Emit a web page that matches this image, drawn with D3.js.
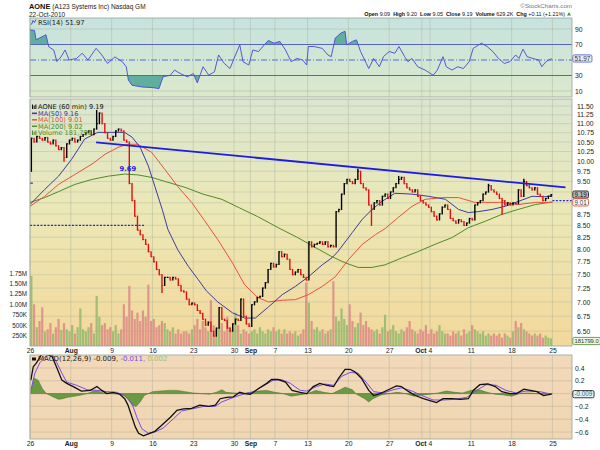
<!DOCTYPE html>
<html>
<head>
<meta charset="utf-8">
<script src="https://cdn.jsdelivr.net/npm/d3@7"></script>
<style>
  body { margin: 0; background: #fff; }
  svg { font-family: "DejaVu Sans", Verdana, sans-serif; display: block; }
</style>
</head>
<body>
<svg id="chart"></svg>
<script>
// Datos de la grafica (AONE, barras de 60 min, 26-Jul a 22-Oct 2010)
// x = indice de dia de mercado (0 = 26 Jul)
const dayTicks = [0, 5, 10, 15, 20, 25, 27, 30, 34, 39, 44, 48, 49, 54, 59, 64];
const dayLabels = ["26", "Aug", "9", "16", "23", "30", "Sep", "7", "13", "20", "27", "Oct", "4", "11", "18", "25"];
const monthLabels = ["Aug", "Sep", "Oct"];

const priceTicks = [6.50, 6.75, 7.00, 7.25, 7.50, 7.75, 8.00, 8.25, 8.50, 8.75, 9.00, 9.25, 9.50, 9.75, 10.00, 10.25, 10.50, 10.75, 11.00, 11.25, 11.50];
// etiquetas tapadas por las cajas de ultimo valor
const hiddenPriceLabels = [9.00, 9.25];
const volTicks = [250, 500, 750, 1000, 1250, 1500, 1750];
const volLabels = ["250K", "500K", "750K", "1.00M", "1.25M", "1.50M", "1.75M"];
const rsiTicks = [10, 30, 70, 90];
const macdTicks = [-0.6, -0.4, -0.2, 0.2, 0.4];

// cierres, 3 barras por dia
const closes = [
  10.60, 10.50, 10.65,  10.60, 10.55, 10.62,  10.50, 10.45, 10.55,  10.40, 10.30, 10.35,
  10.10, 10.45, 10.55,  10.60, 10.50, 10.55,  10.65, 10.70, 10.75,  10.80, 10.70, 10.85,
  11.00, 11.30, 11.00,  10.75, 10.60, 10.55,  10.65, 10.80, 10.85,  10.80, 10.55, 10.50,
  9.45, 9.05, 8.70,     8.40, 8.30, 8.20,     8.10, 7.95, 7.85,     7.75, 7.60, 7.50,
  7.30, 7.45, 7.45,     7.40, 7.45, 7.42,     7.30, 7.20, 7.18,     7.05, 6.95, 6.98,
  6.95, 6.85, 6.80,     6.70, 6.60, 6.65,     6.50, 6.42, 6.55,     6.90, 6.70, 6.68,
  6.55, 6.50, 6.62,     6.70, 6.68, 7.05,     6.75, 6.62, 6.58,     6.95, 7.00, 7.08,
  7.10, 7.25, 7.35,     7.60, 7.72, 7.65,     7.70, 7.95, 7.85,     7.90, 7.80, 7.60,
  7.50, 7.55, 7.60,     7.50, 7.45, 7.40,     8.15, 8.05, 8.10,     8.12, 8.15, 8.10,
  8.15, 8.05, 8.08,     8.05, 8.80, 8.85,     9.20, 9.45, 9.55,     9.50, 9.45, 9.55,
  9.75, 9.45, 9.35,     9.30, 8.95, 8.85,     9.00, 9.05, 8.95,     9.15, 9.20, 9.10,
  9.25, 9.35, 9.45,     9.55, 9.60, 9.45,     9.35, 9.30, 9.25,     9.30, 9.15, 9.05,
  9.00, 8.95, 8.90,     8.80, 8.70, 8.62,     8.75, 8.90, 8.95,     8.85, 8.65, 8.60,
  8.55, 8.62, 8.58,     8.50, 8.55, 8.65,     8.62, 8.95, 9.00,     9.05, 9.20, 9.25,
  9.40, 9.30, 9.25,     9.20, 9.10, 9.05,     8.95, 9.00, 8.95,     9.00, 8.98, 9.30,
  9.15, 9.50, 9.40,     9.35, 9.30, 9.35,     9.20, 9.15, 9.05,     9.10, 9.15, 9.19
];
// mechas largas [indice de barra, precio]
const spikes = [[0, 9.75], [12, 10.0], [24, 11.37], [48, 7.17], [120, 9.80], [125, 8.50], [135, 9.62], [168, 9.43], [173, 8.74], [181, 9.55]];

// volumen (miles), 3 barras por dia
const volumes = [
  1680, 1000, 450,  600, 930, 350,  400, 550, 300,  450, 650, 380,  550, 400, 350,
  500, 300, 450,    900, 400, 350,  450, 550, 300,  1200, 700, 500, 550, 400, 450,
  350, 500, 300,    400, 1000, 700, 1440, 850, 650, 800, 600, 850,  700, 1470, 600,
  650, 450, 500,    600, 550, 400,  350, 450, 300,  400, 300, 350,  350, 300, 400,
  500, 650, 400,    600, 450, 350,  1100, 500, 400, 450, 550, 350,  700, 450, 400,
  800, 500, 300,    400, 350, 300,  350, 400, 300,  450, 350, 300,  400, 350, 450,
  350, 400, 300,    400, 300, 350,  300, 350, 250,  300, 400, 1520, 1040, 600, 400,
  450, 350, 400,    300, 350, 400,  1550, 700, 600, 900, 650, 500,  1000, 600, 450,
  550, 800, 500,    600, 450, 400,  350, 400, 300,  450, 750, 350,  400, 500, 350,
  300, 400, 350,    450, 600, 400,  350, 300, 400,  350, 500, 300,  400, 300, 350,
  500, 350, 300,    300, 250, 350,  300, 350, 250,  400, 300, 350,  500, 400, 350,
  300, 350, 250,    300, 250, 300,  250, 300, 200,  300, 250, 200,  350, 600, 450,
  550, 400, 350,    300, 250, 300,  250, 300, 200,  250, 200, 182
];

// medias moviles [dia, precio]
const ma50 = [[0, 8.96], [1.8, 9.31], [3.5, 9.63], [5.1, 10.05], [6.7, 10.58], [8.3, 10.76], [10, 10.76], [11.6, 10.76], [12.5, 10.63], [13.5, 10.36], [14.5, 9.88], [15.3, 9.38], [16.2, 8.85], [16.9, 8.41], [18.1, 7.99], [19.4, 7.66], [20.6, 7.41], [21.6, 7.2], [23, 7.0], [24.8, 6.81], [26.3, 6.72], [27.6, 6.72], [29.2, 6.91], [30.9, 7.13], [32.5, 7.28], [34.1, 7.46], [35.8, 7.69], [37, 7.83], [37.7, 7.95], [39.5, 8.35], [40.7, 8.63], [41.9, 8.85], [43.1, 9.03], [44.7, 9.22], [46.8, 9.2], [48.8, 9.15], [50.9, 9.08], [52.5, 8.85], [53.7, 8.78], [54.9, 8.8], [56.6, 8.85], [58.2, 8.92], [59.8, 9.03], [61.5, 9.15], [63.1, 9.14], [64, 9.16]];
const ma100 = [[0, 8.92], [1.8, 9.15], [3.5, 9.43], [5.5, 9.67], [7.6, 9.93], [9.2, 10.18], [10.8, 10.36], [12, 10.44], [13.2, 10.44], [14.9, 10.23], [16.5, 9.80], [18.1, 9.38], [19.8, 9.01], [21.4, 8.6], [23, 8.2], [24.8, 7.73], [26.3, 7.31], [27.9, 7.08], [29.2, 7.0], [30.9, 7.03], [32.5, 7.04], [34.1, 7.13], [35.8, 7.28], [37.4, 7.46], [39, 7.79], [40.7, 8.1], [42.3, 8.3], [43.5, 8.43], [45.1, 8.67], [46.8, 8.92], [48.4, 9.08], [50.5, 9.12], [52.5, 9.12], [54.5, 9.01], [55.8, 9.01], [57.8, 9.01], [59.8, 8.96], [61.9, 9.01], [64, 9.01]];
const ma200 = [[0, 9.01], [1.8, 9.12], [3.5, 9.26], [5.5, 9.43], [7.6, 9.55], [9.6, 9.63], [11.6, 9.68], [13.2, 9.66], [14.9, 9.6], [16.9, 9.48], [19, 9.36], [21.2, 9.2], [23.5, 9.08], [25.5, 8.9], [27.9, 8.69], [30.4, 8.45], [32.8, 8.24], [34.9, 8.04], [37, 7.85], [38.6, 7.73], [40.2, 7.64], [41.9, 7.64], [43.5, 7.69], [45.6, 7.83], [47.5, 7.95], [49.6, 8.1], [51.7, 8.24], [53.7, 8.45], [55.8, 8.59], [57.8, 8.74], [59.8, 8.85], [61.9, 8.96], [64, 9.02]];

// linea de tendencia y niveles marcados
const trendLine = [[8.1, 10.49], [65.6, 9.36]];
const levelLeft = [[0, 8.50], [14.1, 8.50]];
const levelRight = [[64, 9.05], [66.4, 9.05]];
const gapMark = [12.0, 9.69];

// RSI(14) [dia, valor]
const rsi = [[0, 89], [0.55, 88], [0.75, 76], [1.1, 78], [1.96, 82.6], [2.3, 67], [2.9, 63], [3.3, 48], [3.8, 54], [4.3, 63], [4.8, 50], [5.7, 52], [6.4, 58.7], [7.1, 50], [8.1, 65], [8.8, 56.5], [9.5, 45.6], [10.4, 54], [11.3, 47.8], [11.8, 41.3], [12.05, 24], [12.5, 17.4], [13.7, 15.2], [15.1, 14.3], [15.8, 13], [16.3, 28.3], [17.2, 30.4], [17.7, 37], [18.4, 32.6], [19.3, 28.3], [20, 32.6], [20.5, 20.4], [21.2, 41.3], [21.9, 30.4], [22.6, 34.8], [23.1, 56.5], [23.8, 45.6], [24.5, 39], [25, 52], [25.7, 69.6], [26.1, 47.8], [26.8, 43.5], [27.3, 63], [28, 60.9], [28.7, 69.6], [29.2, 75.2], [29.9, 71.7], [30.6, 74], [31.3, 63], [32, 47.8], [32.7, 52], [33.4, 50], [33.9, 43.5], [34.1, 67.4], [34.8, 67.4], [35.8, 65], [36.5, 56.5], [36.9, 54.3], [37.4, 78.3], [38.1, 84.8], [38.6, 87], [38.8, 69.6], [39.5, 74], [40, 76], [40.5, 60.9], [41.2, 45.6], [41.5, 39], [42.1, 52], [42.8, 41.3], [43.3, 54.3], [44, 60.9], [44.7, 58.7], [45.2, 67.4], [45.9, 54.3], [46.3, 47.8], [46.8, 52], [47.5, 41.3], [48.4, 37], [49.4, 30.4], [49.9, 37], [50.6, 54.3], [51, 41.3], [51.7, 37], [52.4, 41.3], [53.1, 39], [53.8, 47.8], [54.3, 65], [55.3, 71.7], [56, 67.4], [56.7, 60.9], [57.4, 52], [58.1, 45.6], [58.8, 47.8], [59.5, 56.5], [59.9, 52], [60.4, 64], [60.9, 54.3], [61.6, 52], [62.3, 50], [62.7, 41.3], [63.2, 47.8], [63.9, 51.97]];

// MACD(12,26,9) [dia, valor]
const macdLine = [[0.1, 0.21], [0.4, 0.42], [0.8, 0.48], [1.4, 0.61], [2.0, 0.62], [2.7, 0.58], [3.3, 0.40], [3.9, 0.21], [4.5, 0.16], [5.3, 0.11], [6.3, 0.04], [7.4, 0.05], [8.2, 0.11], [8.8, 0.05], [9.4, 0.0], [10.2, 0.02], [11, -0.01], [11.6, -0.08], [12, -0.18], [12.5, -0.37], [12.9, -0.52], [13.3, -0.62], [13.9, -0.66], [14.5, -0.63], [15.3, -0.59], [16.1, -0.5], [17.2, -0.37], [18, -0.26], [18.8, -0.24], [19.8, -0.23], [20.8, -0.18], [21.9, -0.2], [22.7, -0.18], [23.3, -0.08], [24.1, -0.06], [24.9, -0.05], [25.7, 0.02], [26.3, 0.0], [27, -0.01], [28, 0.08], [29, 0.16], [29.6, 0.22], [30.4, 0.22], [31.3, 0.18], [32.1, 0.05], [33.1, 0.02], [33.9, 0.0], [34.7, 0.11], [35.5, 0.16], [36.4, 0.13], [37.2, 0.11], [37.8, 0.24], [38.6, 0.38], [39.2, 0.38], [39.8, 0.34], [40.6, 0.24], [41.5, 0.05], [42.1, -0.03], [42.9, 0.0], [43.9, 0.06], [44.9, 0.12], [45.5, 0.11], [46.4, 0.03], [47.2, -0.03], [48.2, -0.08], [49, -0.11], [49.8, -0.14], [50.6, -0.08], [51.7, -0.08], [52.7, -0.09], [53.7, -0.08], [54.3, 0.05], [55.1, 0.14], [56.1, 0.15], [57, 0.11], [57.8, 0.03], [58.8, 0.0], [59.6, 0.0], [60.5, 0.07], [61.3, 0.05], [62.1, 0.03], [62.9, -0.03], [63.9, -0.009]];
const macdSignal = [[0.1, 0.05], [0.6, 0.32], [1.2, 0.48], [2.0, 0.59], [2.7, 0.61], [3.3, 0.48], [3.9, 0.32], [4.5, 0.18], [5.7, 0.13], [7.0, 0.06], [8.2, 0.05], [9.4, 0.03], [10.6, 0.02], [11.6, -0.03], [12.5, -0.16], [13.1, -0.37], [13.7, -0.55], [14.5, -0.62], [15.3, -0.6], [16.3, -0.54], [17.6, -0.39], [18.6, -0.27], [19.8, -0.24], [21.3, -0.2], [22.7, -0.2], [23.5, -0.13], [24.9, -0.06], [26.1, -0.01], [27.4, 0.03], [28.6, 0.12], [29.8, 0.21], [30.8, 0.22], [31.9, 0.16], [33.1, 0.05], [33.9, 0.04], [35.1, 0.11], [36.1, 0.15], [37.2, 0.13], [38.2, 0.27], [39.2, 0.33], [40.2, 0.32], [41.3, 0.16], [42.1, 0.03], [43.3, 0.01], [44.5, 0.06], [45.5, 0.09], [46.8, 0.04], [48, -0.03], [49.4, -0.1], [50.6, -0.1], [51.9, -0.09], [53.5, -0.06], [54.7, 0.05], [55.9, 0.14], [57.1, 0.13], [58.3, 0.05], [59.6, 0.01], [60.8, 0.04], [62.5, 0.03], [63.9, -0.011]];
const macdHist = [[0.1, 0.02], [0.5, 0.24], [1, 0.21], [1.5, 0.08], [2, 0], [2.5, -0.03], [3, -0.06], [3.5, -0.09], [4, -0.08], [4.5, -0.06], [5, -0.05], [6, -0.03], [7, 0], [8, 0.05], [9, 0.01], [10, 0], [11, -0.01], [11.5, -0.03], [12, -0.08], [12.5, -0.18], [13, -0.2], [13.5, -0.13], [14, -0.03], [14.5, 0], [15, 0.03], [16, 0.04], [17, 0.05], [18, 0.05], [19, 0.03], [20, 0.01], [21, 0], [22, -0.01], [23, 0.03], [23.5, 0.06], [24, 0.02], [25, 0.01], [26, 0], [27, 0.02], [28, 0.04], [29, 0.05], [30, 0.02], [31, 0], [32, -0.04], [33, -0.02], [34, 0], [35, 0.05], [36, 0.02], [37, 0], [38, 0.06], [38.6, 0.1], [39.5, 0.06], [40, -0.01], [41, -0.08], [41.5, -0.13], [42, -0.08], [43, -0.02], [44, 0], [45, 0.02], [46, 0], [47, -0.04], [48, -0.02], [49, -0.01], [50, 0.01], [51, 0.04], [52, 0.02], [53, 0.01], [54, 0.05], [55, 0.06], [56, 0.02], [57, -0.01], [58, -0.02], [59, -0.04], [60, 0], [61, 0.01], [62, 0], [63, -0.01], [64, 0.002]];

// Configuracion
const width = 600, height = 450;
const left = 30, right = 572;
const rsiTop = 18, rsiBot = 97, mainTop = 99, mainBot = 346, macdTop = 355, macdBot = 439;
const barsPerDay = 3;
const axisFont = "Liberation Sans, Arial, sans-serif";

const svg = d3.select("#chart").attr("width", width).attr("height", height);
const defs = svg.append("defs");

function gradient(id, stops) {
  const g = defs.append("linearGradient").attr("id", id)
    .attr("x1", 0).attr("y1", 0).attr("x2", 0).attr("y2", 1);
  stops.forEach(([o, c]) => g.append("stop").attr("offset", o).attr("stop-color", c));
}
gradient("gRsi", [[0, "#c6e3df"], [1, "#dce9cb"]]);
gradient("gMain", [[0, "#dae6d0"], [0.45, "#ebe8b6"], [1, "#f3d89a"]]);
gradient("gMacd", [[0, "#f2d9b9"], [1, "#f0d6b2"]]);

function clip(id, y0, y1) {
  defs.append("clipPath").attr("id", id).append("rect")
    .attr("x", left).attr("y", y0).attr("width", right - left).attr("height", y1 - y0);
}
clip("cRsi", rsiTop, rsiBot);
clip("cMain", mainTop, mainBot);
clip("cMacd", macdTop, macdBot);

// Escalas
const x = d3.scaleLinear().domain([0, 66.4]).range([left, right]);
const yP = d3.scaleLog().domain([6.26, 11.71]).range([mainBot, mainTop]);
const yV = d3.scaleLinear().domain([0, 1750]).range([mainBot, 273]);
const yR = d3.scaleLinear().domain([10, 90]).range([91, 29]);
const yM = d3.scaleLinear().domain([-0.6, 0.4]).range([432, 368]);

// Fondos de los paneles
[[rsiTop, rsiBot, "gRsi"], [mainTop, mainBot, "gMain"], [macdTop, macdBot, "gMacd"]].forEach(([a, b, g]) => {
  svg.append("rect").attr("x", left).attr("y", a).attr("width", right - left).attr("height", b - a)
    .attr("fill", `url(#${g})`);
});

// Rejilla vertical
[[rsiTop, rsiBot], [mainTop, mainBot], [macdTop, macdBot]].forEach(([a, b]) => {
  svg.append("g").selectAll("line").data(dayTicks).enter().append("line")
    .attr("x1", d => x(d)).attr("x2", d => x(d)).attr("y1", a).attr("y2", b)
    .attr("stroke", "#aab4a0").attr("stroke-opacity", 0.45).attr("stroke-width", 1);
});

// Rejilla horizontal
svg.append("g").selectAll("line").data(priceTicks).enter().append("line")
  .attr("x1", left).attr("x2", right).attr("y1", d => yP(d)).attr("y2", d => yP(d))
  .attr("stroke", "#aab4a0").attr("stroke-opacity", 0.4);
svg.append("g").selectAll("line").data([10, 90]).enter().append("line")
  .attr("x1", left).attr("x2", right).attr("y1", d => yR(d)).attr("y2", d => yR(d))
  .attr("stroke", "#aab4a0").attr("stroke-opacity", 0.5);
svg.append("g").selectAll("line").data(macdTicks.concat([0])).enter().append("line")
  .attr("x1", left).attr("x2", right).attr("y1", d => yM(d)).attr("y2", d => yM(d))
  .attr("stroke", "#b8a890").attr("stroke-opacity", 0.45);

// ---- RSI ----
const gR = svg.append("g").attr("clip-path", "url(#cRsi)");
defs.append("clipPath").attr("id", "cAbove").append("rect")
  .attr("x", left).attr("y", rsiTop).attr("width", right - left).attr("height", yR(70) - rsiTop);
defs.append("clipPath").attr("id", "cBelow").append("rect")
  .attr("x", left).attr("y", yR(30)).attr("width", right - left).attr("height", rsiBot - yR(30));
gR.append("path").datum(rsi).attr("clip-path", "url(#cAbove)")
  .attr("fill", "#5fae9f")
  .attr("d", d3.area().x(d => x(d[0])).y0(yR(70)).y1(d => yR(d[1])));
gR.append("path").datum(rsi).attr("clip-path", "url(#cBelow)")
  .attr("fill", "#5fae9f")
  .attr("d", d3.area().x(d => x(d[0])).y0(yR(30)).y1(d => yR(d[1])));
[70, 30].forEach(v => {
  gR.append("line").attr("x1", left).attr("x2", right).attr("y1", yR(v)).attr("y2", yR(v))
    .attr("stroke", "#5566bb").attr("stroke-width", 1.2);
});
gR.append("line").attr("x1", left).attr("x2", right).attr("y1", yR(50)).attr("y2", yR(50))
  .attr("stroke", "#5a6ad0").attr("stroke-dasharray", "6,2,1,2");
gR.append("path").datum(rsi).attr("fill", "none").attr("stroke", "#4848d8").attr("stroke-width", 0.9)
  .attr("d", d3.line().x(d => x(d[0])).y(d => yR(d[1])));

// ---- Panel principal ----
const gM = svg.append("g").attr("clip-path", "url(#cMain)");
const bars = closes.map((c, i) => {
  const o = i === 0 ? c : closes[i - 1];
  let hi = Math.max(o, c), lo = Math.min(o, c);
  spikes.filter(s => s[0] === i).forEach(s => { hi = Math.max(hi, s[1]); lo = Math.min(lo, s[1]); });
  return { d: (i + 0.5) / barsPerDay, o, c, hi, lo, v: volumes[i], up: c >= o };
});

// volumen
gM.append("g").selectAll("rect").data(bars).enter().append("rect")
  .attr("x", d => x(d.d) - 1.1).attr("width", 2.2)
  .attr("y", d => yV(d.v)).attr("height", d => mainBot - yV(d.v))
  .attr("fill", d => d.up ? "#8cb66a" : "#d98585").attr("fill-opacity", 0.8);

// medias moviles
const priceLine = d3.line().x(d => x(d[0])).y(d => yP(d[1]));
[[ma200, "#4c8c2c"], [ma100, "#e8523e"], [ma50, "#3c3ca0"]].forEach(([s, col]) => {
  gM.append("path").datum(s).attr("fill", "none").attr("stroke", col).attr("stroke-width", 1)
    .attr("d", priceLine);
});

// barras OHLC
const gB = gM.append("g");
gB.selectAll("line.hl").data(bars).enter().append("line")
  .attr("x1", d => x(d.d)).attr("x2", d => x(d.d))
  .attr("y1", d => yP(d.hi) - 0.6).attr("y2", d => yP(d.lo) + 0.6)
  .attr("stroke", d => d.up ? "#000" : "#e01010").attr("stroke-width", 1.4);
gB.selectAll("line.cl").data(bars).enter().append("line")
  .attr("x1", d => x(d.d)).attr("x2", d => x(d.d) + 1.3)
  .attr("y1", d => yP(d.c)).attr("y2", d => yP(d.c))
  .attr("stroke", d => d.up ? "#000" : "#e01010").attr("stroke-width", 1);

// tendencia y niveles
gM.append("path").datum(trendLine).attr("fill", "none").attr("stroke", "#1c1ce6").attr("stroke-width", 1.8)
  .attr("d", priceLine);
[levelLeft, levelRight].forEach(l => {
  gM.append("path").datum(l).attr("fill", "none").attr("stroke", "#2a2ae0").attr("stroke-width", 1.2)
    .attr("stroke-dasharray", "2,1.5").attr("d", priceLine);
});
gM.append("line").attr("x1", x(0)).attr("x2", x(0.35)).attr("y1", yP(9.46)).attr("y2", yP(9.46))
  .attr("stroke", "#2a2ae0").attr("stroke-width", 1.2);
svg.append("text").attr("x", x(gapMark[0])).attr("y", yP(gapMark[1]) - 3)
  .attr("text-anchor", "middle").attr("font-size", 6.8).attr("font-weight", "bold").attr("fill", "#2323d8")
  .text(gapMark[1].toFixed(2));

// ---- MACD ----
const gC = svg.append("g").attr("clip-path", "url(#cMacd)");
gC.append("path").datum(macdHist).attr("fill", "#6a9a44").attr("stroke", "#3f6e24").attr("stroke-width", 0.5)
  .attr("d", d3.area().x(d => x(d[0])).y0(yM(0)).y1(d => yM(d[1])));
gC.append("path").datum(macdSignal).attr("fill", "none").attr("stroke", "#7a4ae8").attr("stroke-width", 1)
  .attr("d", d3.line().x(d => x(d[0])).y(d => yM(d[1])));
gC.append("path").datum(macdLine).attr("fill", "none").attr("stroke", "#111").attr("stroke-width", 1.3)
  .attr("d", d3.line().x(d => x(d[0])).y(d => yM(d[1])));

// Bordes
[[rsiTop, rsiBot], [mainTop, mainBot], [macdTop, macdBot]].forEach(([a, b]) => {
  svg.append("rect").attr("x", left).attr("y", a).attr("width", right - left).attr("height", b - a)
    .attr("fill", "none").attr("stroke", "#9aa39a").attr("stroke-width", 0.8);
});

// Ejes
const fs = 6.8;
const rAxis = (scale, ticks, fmt, pad) => d3.axisRight(scale).tickValues(ticks).tickFormat(fmt).tickSize(0).tickPadding(pad);
function styleAxis(g) {
  g.select(".domain").remove();
  g.selectAll("text").attr("font-size", fs).attr("fill", "#222").attr("font-family", axisFont);
}
const priceLabelTicks = priceTicks.filter(p => !hiddenPriceLabels.includes(p));
svg.append("g").attr("transform", `translate(${right},0)`)
  .call(rAxis(yP, priceLabelTicks, d3.format(".2f"), 5)).call(styleAxis);
svg.append("g").attr("transform", `translate(${right},0)`)
  .call(rAxis(yR, rsiTicks, d3.format("d"), 3)).call(styleAxis);
svg.append("g").attr("transform", `translate(${right},0)`)
  .call(rAxis(yM, macdTicks, d3.format(".1f"), 3)).call(styleAxis);
svg.append("g").attr("transform", `translate(${left},0)`)
  .call(d3.axisLeft(yV).tickValues(volTicks).tickFormat((d, i) => volLabels[i]).tickSize(0).tickPadding(3))
  .call(styleAxis)
  .selectAll("text").attr("font-size", 6.3);

[mainBot, macdBot].forEach(yb => {
  const g = svg.append("g").attr("transform", `translate(0,${yb})`)
    .call(d3.axisBottom(x).tickValues(dayTicks).tickFormat((d, i) => dayLabels[i]).tickSize(0).tickPadding(2.5));
  styleAxis(g);
  g.selectAll("text")
    .attr("font-weight", (d, i) => monthLabels.includes(dayLabels[i]) ? "bold" : "normal")
    .attr("dx", (d, i) => dayLabels[i] === "Oct" ? -1.5 : 0);
});

// Cajas de valor a la derecha
function valueBox(y, label, stroke, fill, color, size) {
  const g = svg.append("g");
  const r = g.append("rect");
  const t = g.append("text").attr("x", right + 2.5).attr("y", y + 2.2)
    .attr("font-size", size || 6.3).attr("font-family", axisFont).attr("fill", color).text(label);
  const w = t.node().getComputedTextLength();
  r.attr("x", right + 0.8).attr("y", y - 3.6).attr("width", w + 3.4).attr("height", 7.2)
    .attr("rx", 1.5).attr("fill", fill).attr("stroke", stroke).attr("stroke-width", 0.9);
}
valueBox(yR(51.97), "51.97", "#5a6ad0", "#e6ecf6", "#333");
valueBox(yP(9.19), "9.19", "#222", "#b9b9b9", "#111");
valueBox(yP(9.01), "9.01", "#e04a3a", "#fff", "#333");
valueBox(yV(0) - 5, "181799.0", "#5a9a3a", "#eef6e6", "#333", 5.8);
valueBox(yM(-0.009), "-0.009", "#222", "#e4f1f4", "#2a6a8a");

// Leyendas
svg.append("text").attr("x", 38).attr("y", 24.5).attr("font-size", 6.8).attr("fill", "#222").text("RSI(14) 51.97");
svg.append("path").attr("d", "M31.5,24.5 l1.5,-4 l1.5,2 l1.5,-3").attr("fill", "none").attr("stroke", "#4848d8");

const legend = [
  ["AONE (60 min) 9.19", "#111"],
  ["MA(50) 9.16", "#3c3ca0"],
  ["MA(100) 9.01", "#e8523e"],
  ["MA(200) 9.02", "#4c8c2c"],
  ["Volume 181,799", "#4c8c2c"]
];
legend.forEach(([t, col], i) => {
  const yy = 109 + i * 6.5;
  svg.append("text").attr("x", 38).attr("y", yy).attr("font-size", 6.6).attr("fill", col).text(t);
  if (i >= 1 && i <= 3) {
    svg.append("line").attr("x1", 32).attr("x2", 37).attr("y1", yy - 2.2).attr("y2", yy - 2.2)
      .attr("stroke", col).attr("stroke-width", 1.5);
  } else {
    [0, 1, 2].forEach(k => svg.append("line").attr("x1", 32.5 + k * 1.7).attr("x2", 32.5 + k * 1.7)
      .attr("y1", yy - 4.5 + (k % 2)).attr("y2", yy).attr("stroke", col).attr("stroke-width", 1));
  }
});

const mLeg = svg.append("text").attr("x", 38).attr("y", macdTop + 6).attr("font-size", 7);
mLeg.append("tspan").attr("fill", "#222").text("MACD(12,26,9) -0.009, ");
mLeg.append("tspan").attr("fill", "#7a4ae8").text("-0.011, ");
mLeg.append("tspan").attr("fill", "#9cc07a").text("0.002");
svg.append("rect").attr("x", 32).attr("y", macdTop + 2.5).attr("width", 4).attr("height", 3).attr("fill", "#111");

// Cabecera
const h1 = svg.append("text").attr("x", 29).attr("y", 8.7).attr("font-family", axisFont);
h1.append("tspan").attr("font-size", 7.4).attr("font-weight", "bold").attr("fill", "#111").text("AONE");
h1.append("tspan").attr("font-size", 6.5).attr("fill", "#222").attr("dx", 2).text("(A123 Systems Inc) Nasdaq GM");
svg.append("text").attr("x", 29).attr("y", 16.5).attr("font-size", 6.5).attr("font-family", axisFont)
  .attr("fill", "#222").text("22-Oct-2010");
svg.append("text").attr("x", 572).attr("y", 7.5).attr("text-anchor", "end").attr("font-size", 6.2)
  .attr("font-family", axisFont).attr("fill", "#777").text("©StockCharts.com");

const quoteLabels = ["Open", "High", "Low", "Close", "Volume", "Chg"];
const quoteValues = ["9.09", "9.20", "9.05", "9.19", "629.2K", "+0.11 (+1.21%)"];
const q = svg.append("text").attr("x", 565).attr("y", 16).attr("text-anchor", "end")
  .attr("font-size", 5.4).attr("font-family", axisFont).attr("fill", "#111");
quoteLabels.forEach((l, i) => {
  q.append("tspan").attr("font-weight", "bold").attr("dx", i ? 3 : 0).text(l);
  q.append("tspan").attr("dx", 1.5).text(quoteValues[i]);
});
svg.append("path").attr("d", "M567,15.5 l2,-3.4 l2,3.4 z").attr("fill", "#3a9a3a");
</script>
</body>
</html>
